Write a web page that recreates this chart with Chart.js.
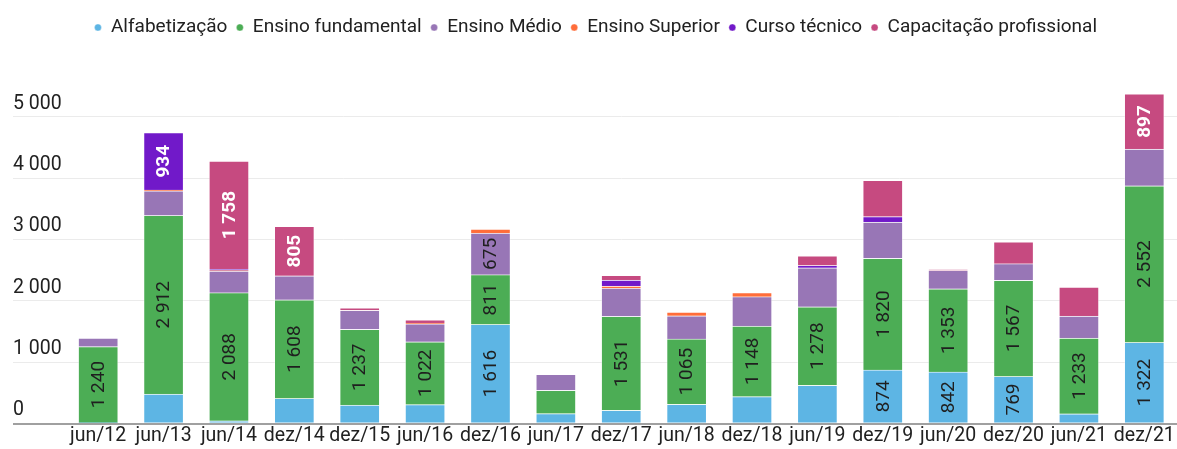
<!DOCTYPE html>
<html>
  <head>
    <meta charset="utf-8"/>
    <style type="text/css">
      body {
        margin: 0px;
        padding: 0px;
        background: #ffffff;
      }
      #box {
        width: 1177px;
        height: 449px;
      }
    </style>
  </head>
  <body>
    <div id="box"><canvas id="chart"></canvas></div>
    <script src="https://cdn.jsdelivr.net/npm/chart.js@4.4.1/dist/chart.umd.min.js"></script>
    <script>
      var periods = ['jun/12', 'jun/13', 'jun/14', 'dez/14', 'dez/15', 'jun/16', 'dez/16', 'jun/17', 'dez/17',
                     'jun/18', 'dez/18', 'jun/19', 'dez/19', 'jun/20', 'dez/20', 'jun/21', 'dez/21'];
      var alfabetizacao = [15, 480, 45, 410, 300, 310, 1616, 163, 217, 315, 440, 625, 874, 842, 769, 160, 1322];
      var fundamental   = [1240, 2912, 2088, 1608, 1237, 1022, 811, 380, 1531, 1065, 1148, 1278, 1820, 1353, 1567, 1233, 2552];
      var medio         = [140, 400, 350, 390, 310, 295, 675, 260, 459, 376, 480, 636, 590, 300, 270, 360, 600];
      var superior      = [0, 15, 10, 0, 0, 12, 65, 0, 33, 60, 65, 0, 0, 0, 0, 0, 0];
      var cursoTecnico  = [0, 934, 25, 0, 0, 0, 0, 0, 98, 0, 0, 38, 88, 0, 0, 0, 0];
      var capacitacao   = [0, 0, 1758, 805, 38, 50, 0, 0, 76, 0, 0, 157, 592, 15, 354, 473, 897];
      var yTicks = [0, 1000, 2000, 3000, 4000, 5000];

      var FONT = 'Roboto';
      var labelMin = 650;   // smaller segments get no value label

      function fmt(v) {
        return String(Math.round(v)).replace(/\B(?=(\d{3})+(?!\d))/g, ' ');
      }

      function serie(label, data, color, textColor) {
        return {
          label: label,
          data: data,
          backgroundColor: color,
          borderColor: 'rgba(255,255,255,0.35)',
          borderWidth: 1,
          textColor: textColor,
          barThickness: 40,
          stack: 's'
        };
      }

      // vertical value labels inside the segments
      var valueLabels = {
        id: 'valueLabels',
        afterDatasetsDraw: function(chart) {
          var ctx = chart.ctx;
          chart.data.datasets.forEach(function(ds, di) {
            var meta = chart.getDatasetMeta(di);
            meta.data.forEach(function(bar, i) {
              var v = ds.data[i];
              if (v < labelMin) return;
              var p = bar.getProps(['x', 'y', 'base'], true);
              var white = ds.textColor === '#ffffff';
              ctx.save();
              ctx.translate(p.x, (p.y + p.base) / 2);
              ctx.rotate(-Math.PI / 2);
              ctx.textAlign = 'center';
              ctx.textBaseline = 'middle';
              ctx.font = (white ? 'bold ' : '') + '19px ' + FONT;
              ctx.fillStyle = ds.textColor;
              ctx.fillText(fmt(v), 0, 1);
              ctx.restore();
            });
          });
        }
      };

      // extra room under the legend
      var legendGap = {
        id: 'legendGap',
        beforeInit: function(chart) {
          var fit = chart.legend.fit;
          chart.legend.fit = function() {
            fit.bind(chart.legend)();
            this.height += 39;
          };
        }
      };

      new Chart(document.getElementById('chart'), {
        type: 'bar',
        data: {
          labels: periods,
          datasets: [
            serie('Alfabetização', alfabetizacao, '#5db5e4', '#1f1f1f'),
            serie('Ensino fundamental', fundamental, '#4cad55', '#1f1f1f'),
            serie('Ensino Médio', medio, '#9876b6', '#1f1f1f'),
            serie('Ensino Superior', superior, '#ff6d3a', '#1f1f1f'),
            serie('Curso técnico', cursoTecnico, '#7119c9', '#ffffff'),
            serie('Capacitação profissional', capacitacao, '#c64a80', '#ffffff')
          ]
        },
        options: {
          responsive: true,
          maintainAspectRatio: false,
          animation: false,
          layout: {
            padding: { top: 9, left: 13, right: -1.5, bottom: 0 }
          },
          plugins: {
            tooltip: { enabled: false },
            legend: {
              position: 'top',
              labels: {
                usePointStyle: true,
                pointStyle: 'circle',
                boxWidth: 7,
                boxHeight: 5,
                pointStyleWidth: 7,
                padding: 9,
                color: '#212121',
                font: { family: FONT, size: 19 }
              }
            }
          },
          scales: {
            x: {
              stacked: true,
              grid: { display: false, drawTicks: false },
              border: { display: false },
              ticks: {
                color: '#212121',
                padding: 1,
                maxRotation: 0,
                autoSkip: false,
                font: { family: FONT, size: 19.5 }
              }
            },
            y: {
              stacked: true,
              min: 0,
              max: 5500,
              afterBuildTicks: function(scale) {
                scale.ticks = yTicks.map(function(v) { return { value: v }; });
              },
              afterFit: function(scale) {
                scale.width = 52.5;
              },
              grid: {
                drawTicks: true,
                tickLength: 52.5,
                color: function(c) { return c.tick && c.tick.value === 0 ? '#a0a0a0' : '#ebebeb'; },
                tickColor: function(c) { return c.tick && c.tick.value === 0 ? '#a0a0a0' : '#ebebeb'; },
                lineWidth: function(c) { return c.tick && c.tick.value === 0 ? 2 : 1; },
                tickWidth: function(c) { return c.tick && c.tick.value === 0 ? 2 : 1; }
              },
              border: { display: false },
              ticks: {
                crossAlign: 'far',
                labelOffset: -13,
                padding: 0,
                color: '#212121',
                font: { family: FONT, size: 19.5 },
                callback: function(v) { return fmt(v); }
              }
            }
          }
        },
        plugins: [valueLabels, legendGap]
      });
    </script>
  </body>
</html>
